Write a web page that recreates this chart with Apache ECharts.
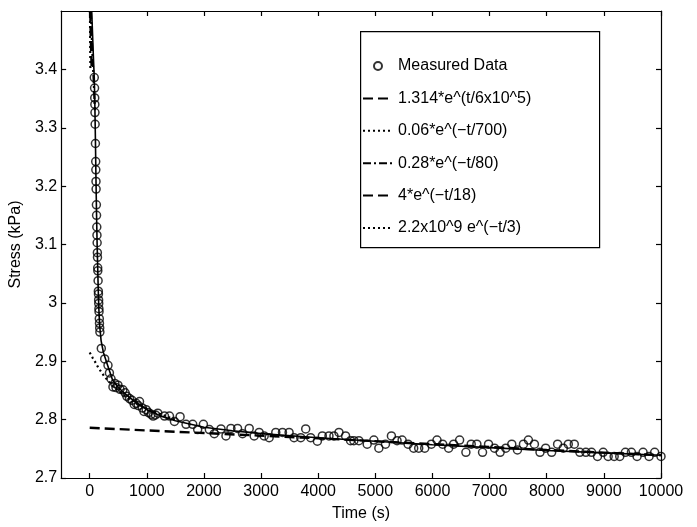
<!DOCTYPE html>
<html>
<head>
<meta charset="utf-8">
<script src="https://cdn.jsdelivr.net/npm/echarts@6/dist/echarts.min.js"></script>
<style>html,body{margin:0;padding:0;background:#fff}#c{width:697px;height:527px}</style>
</head>
<body>
<div id="c"></div>
<script>
// ---- tick values ----
const xTicks = [0, 1000, 2000, 3000, 4000, 5000, 6000, 7000, 8000, 9000, 10000];
const yTicks = [2.7, 2.8, 2.9, 3.0, 3.1, 3.2, 3.3, 3.4];

// ---- measured data (time s, stress kPa) ----
const measuredT = [80, 85, 88, 90, 92, 95, 100, 105, 107, 110, 112, 117, 120, 124, 127, 130, 134, 136, 140, 142, 147, 151, 153, 156, 158, 161, 163, 168, 171, 175, 178,
  203, 262, 320, 345, 373, 407, 440, 460, 495, 530, 581, 620, 650, 697, 740, 780, 813, 850, 872, 920, 950, 988, 1030, 1075, 1110, 1150, 1192,
  1309, 1396, 1483, 1582, 1686, 1803, 1890, 1990, 2094, 2181, 2298, 2385, 2472, 2588, 2675, 2792, 2879, 2966, 3054, 3141, 3257, 3374, 3490, 3577, 3694, 3781, 3868, 3985,
  4072, 4188, 4275, 4363, 4479, 4566, 4624, 4712, 4857, 4974, 5061, 5177, 5281, 5380, 5468, 5573, 5671, 5759, 5864, 5980,
  6079, 6178, 6283, 6370, 6475, 6585, 6678, 6777, 6876, 6981, 7086, 7184, 7283, 7388, 7487, 7592, 7679, 7784, 7882, 7981,
  8086, 8190, 8290, 8377, 8482, 8580, 8685, 8784, 8889, 8988, 9075, 9180, 9278, 9377, 9482, 9581, 9686, 9791, 9889, 10000];
const measuredStress = [3.386, 3.368, 3.351, 3.340, 3.326, 3.306, 3.273, 3.242, 3.228, 3.208, 3.195, 3.168, 3.150, 3.130, 3.116, 3.103, 3.086, 3.078, 3.060, 3.055, 3.038, 3.020, 3.015, 3.005, 2.999, 2.990, 2.985, 2.973, 2.965, 2.957, 2.950,
  2.922, 2.904, 2.893, 2.880, 2.870, 2.856, 2.862, 2.855, 2.859, 2.852, 2.851, 2.846, 2.840, 2.836, 2.833, 2.826, 2.828, 2.824, 2.831, 2.820, 2.814, 2.817, 2.812, 2.809, 2.806, 2.808, 2.811,
  2.806, 2.806, 2.797, 2.805, 2.792, 2.792, 2.783, 2.792, 2.783, 2.776, 2.784, 2.772, 2.785, 2.785, 2.776, 2.785, 2.772, 2.778, 2.772, 2.769, 2.778, 2.778, 2.778, 2.769, 2.769, 2.784, 2.769, 2.763,
  2.772, 2.772, 2.772, 2.778, 2.772, 2.764, 2.764, 2.764, 2.758, 2.765, 2.751, 2.758, 2.772, 2.764, 2.765, 2.758, 2.751, 2.751, 2.751, 2.758,
  2.765, 2.758, 2.751, 2.758, 2.765, 2.744, 2.758, 2.758, 2.744, 2.758, 2.751, 2.744, 2.751, 2.758, 2.748, 2.758, 2.765, 2.758, 2.744, 2.751,
  2.744, 2.758, 2.751, 2.758, 2.758, 2.744, 2.744, 2.744, 2.737, 2.744, 2.737, 2.737, 2.737, 2.744, 2.744, 2.737, 2.744, 2.737, 2.744, 2.737];

// ---- total fit (solid) ----
const fitT = [35, 50, 65, 80, 90, 100, 110, 120, 130, 140, 150, 160, 175, 200, 240, 300, 400, 500, 600, 800, 1000, 1250, 1500, 2000, 2500, 3000, 4000, 5000, 6000, 7000, 8000, 9000, 10000];
const fitStress = [3.5, 3.46, 3.42, 3.385, 3.34, 3.28, 3.21, 3.15, 3.10, 3.06, 3.02, 2.99, 2.96, 2.935, 2.915, 2.897, 2.868, 2.855, 2.846, 2.830, 2.817, 2.806, 2.798, 2.787, 2.781, 2.776, 2.769, 2.763, 2.757, 2.752, 2.747, 2.743, 2.739];

// ---- components ----
const c1T = [0, 2000, 4000, 6000, 8000, 10000];
const c1Stress = [2.786, 2.777, 2.768, 2.758, 2.748, 2.739];
const c2T = [0, 50, 100, 150, 200, 250, 300, 400, 500, 700, 1000, 1500];
const c2Stress = [2.915, 2.906, 2.898, 2.889, 2.882, 2.875, 2.869, 2.858, 2.850, 2.835, 2.818, 2.800];
const c3T = [20, 45, 70, 90];
const c3Stress = [3.5, 3.43, 3.38, 3.33];
const c4T = [10, 20, 35];
const c4Stress = [3.5, 3.45, 3.4];
const c5T = [5, 8, 12];
const c5Stress = [3.5, 3.45, 3.4];

const names = ['Measured Data', '1.314*e^(t/6x10^5)', '0.06*e^(\u2212t/700)', '0.28*e^(\u2212t/80)', '4*e^(\u2212t/18)', '2.2x10^9 e^(\u2212t/3)'];

const zip = (a, b) => a.map((v, i) => [v, b[i]]);
const FONT = '"Liberation Sans", Arial, Helvetica, sans-serif';
const TXT = '#000';

function compLine(name, t, s, type, w) {
  return {
    name: name, type: 'line', data: zip(t, s), symbol: 'none', showSymbol: false,
    lineStyle: { color: '#000', width: w, type: type }, itemStyle: { color: '#000' },
    silent: true, animation: false, z: 3
  };
}

const chart = echarts.init(document.getElementById('c'), null, { renderer: 'canvas' });
const axX = (pos, show) => ({
  type: 'value', position: pos, min: -500, max: 10000,
  axisLine: { show: true, onZero: false, lineStyle: { color: '#000', width: 1.2 } },
  axisTick: { show: true, inside: true, length: 5, customValues: xTicks, lineStyle: { color: '#000', width: 1.2 } },
  axisLabel: show ? { show: true, customValues: xTicks, margin: 6, fontSize: 16, color: TXT, fontFamily: FONT,
    formatter: v => String(Math.round(v)) } : { show: false },
  splitLine: { show: false },
  name: show ? 'Time (s)' : '', nameLocation: 'middle', nameGap: 28,
  nameTextStyle: { fontSize: 16, color: TXT, fontFamily: FONT }
});
const axY = (pos, show) => ({
  type: 'value', position: pos, min: 2.7, max: 3.5,
  axisLine: { show: true, onZero: false, lineStyle: { color: '#000', width: 1.2 } },
  axisTick: { show: true, inside: true, length: 5, customValues: yTicks, lineStyle: { color: '#000', width: 1.2 } },
  axisLabel: show ? { show: true, customValues: yTicks, margin: 4, fontSize: 16, color: TXT, fontFamily: FONT,
    formatter: v => String(Number(v.toFixed(1))) } : { show: false },
  splitLine: { show: false },
  name: show ? 'Stress (kPa)' : '', nameLocation: 'middle', nameGap: 25,
  nameTextStyle: { fontSize: 16, color: TXT, fontFamily: FONT }
});

const hiddenDot = { color: 'rgba(0,0,0,0)', borderColor: 'rgba(0,0,0,0)', borderWidth: 0 };

chart.setOption({
  animation: false,
  backgroundColor: '#fff',
  grid: { left: 59, right: 36, top: 11, bottom: 39 },
  xAxis: [axX('bottom', true), axX('top', false)],
  yAxis: [axY('left', true), axY('right', false)],
  graphic: [{
    type: 'rect', left: 360, top: 31, z: 5, silent: true,
    shape: { width: 239, height: 216 },
    style: { fill: '#fff', stroke: '#000', lineWidth: 1.2 }
  }],
  legend: {
    data: names.map((n, i) => i === 0 ? { name: n } : { name: n, itemStyle: hiddenDot }),
    orient: 'vertical', left: 362, top: 58, padding: 0,
    itemWidth: 30, itemHeight: 8, itemGap: 16.4, z: 6,
    textStyle: { fontSize: 16, color: TXT, fontFamily: FONT, lineHeight: 14 },
    selectedMode: false
  },
  series: [
    {
      name: 'fit', type: 'line', data: zip(fitT, fitStress), symbol: 'none', showSymbol: false,
      lineStyle: { color: '#000', width: 1.6 }, silent: true, z: 2
    },
    compLine(names[1], c1T, c1Stress, [10, 5], 2.4),
    compLine(names[2], c2T, c2Stress, [2, 3], 2.2),
    compLine(names[3], c3T, c3Stress, [8, 3, 2, 3], 2.2),
    compLine(names[4], c4T, c4Stress, [10, 5], 2.4),
    compLine(names[5], c5T, c5Stress, [2, 3], 2.2),
    {
      name: names[0], type: 'scatter', data: zip(measuredT, measuredStress),
      symbol: 'circle', symbolSize: 8,
      itemStyle: { color: 'rgba(255,255,255,0)', borderColor: '#000', borderWidth: 1.5 },
      silent: true, z: 4
    }
  ]
});
</script>
</body>
</html>
